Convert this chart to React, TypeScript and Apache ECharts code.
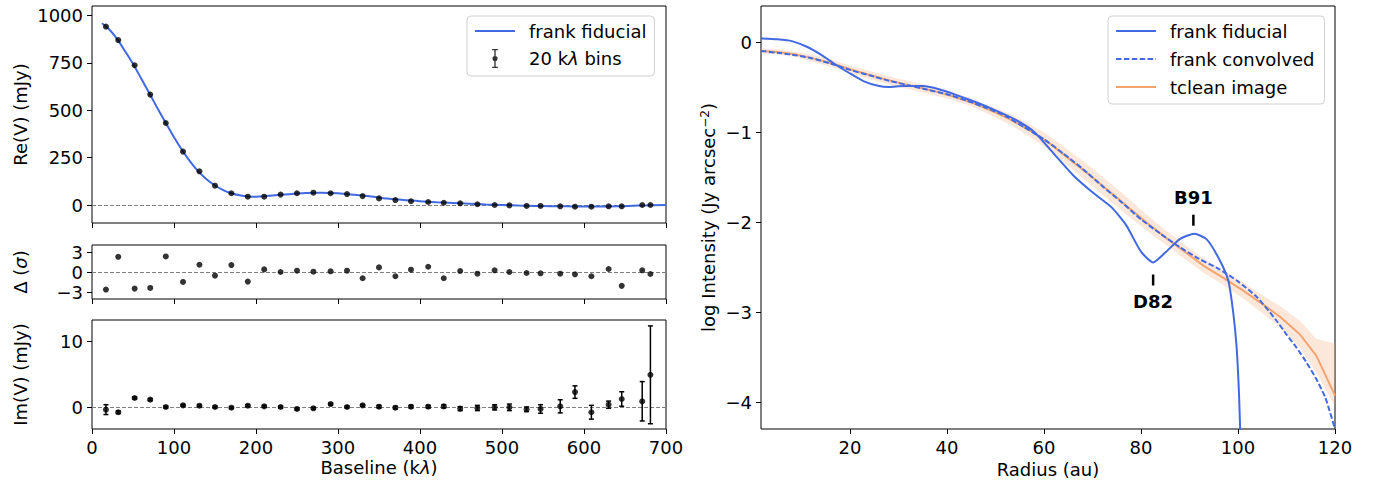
import React, { useEffect, useRef } from 'react';
import * as echarts from 'echarts';

const FONT = 'DejaVu Sans';
const BLUE = '#4169E1';
const ORANGE = '#f5a36f';

// ---- Left panels: binned visibilities (20 klambda bins) ----
const binBaseline = [17, 32, 52, 71, 90, 111, 131, 150, 170, 190, 210, 230, 250, 270, 291, 311, 330, 350, 370, 389, 410, 429, 449, 470, 491, 509, 530, 547, 571, 589, 609, 630, 646, 671, 681];
const binRe = [942, 871, 738, 583, 433, 282, 178, 102, 62, 44, 44, 55, 62, 65, 62, 58, 47, 35, 26, 20, 16, 12, 9, 4, 0, -2, -5, -5, -7, -9, -9, -7, -7, 0, 0];
const binResid = [-2.63, 2.28, -2.49, -2.39, 2.33, -1.49, 1.09, -0.55, 1.04, -1.44, 0.39, 0, 0.2, 0.05, 0.1, 0.2, -0.94, 0.69, -0.64, 0.35, 0.79, -0.94, 0.15, -0.25, 0.25, 0, -0.15, -0.2, -0.25, -0.35, -0.64, 0.45, -2.08, 0.25, -0.3];
const binIm = [-0.35, -0.75, 1.42, 1.17, 0.05, 0.3, 0.25, 0.05, -0.05, 0.25, 0.15, 0.05, -0.25, -0.15, 0.5, 0.05, 0.3, 0.1, -0.05, 0.1, 0.1, 0.15, -0.2, -0.1, 0, 0, -0.3, -0.25, 0.15, 2.32, -0.75, 0.4, 1.27, 0.92, 4.95];
const binImErr = [0.75, 0.2, 0.15, 0.15, 0.15, 0.15, 0.15, 0.15, 0.15, 0.15, 0.15, 0.15, 0.15, 0.15, 0.15, 0.15, 0.15, 0.2, 0.2, 0.2, 0.2, 0.25, 0.3, 0.4, 0.4, 0.5, 0.35, 0.65, 1.0, 0.95, 1.05, 0.55, 1.1, 3.0, 7.45];

// frank fiducial visibility model
const fidBaseline = [12, 20, 30, 40, 50, 60, 70, 80, 90, 100, 110, 120, 130, 140, 150, 160, 170, 180, 190, 200, 210, 220, 240, 260, 280, 300, 320, 340, 360, 380, 400, 420, 440, 460, 480, 500, 520, 540, 560, 580, 600, 620, 640, 660, 680, 700];
const fidRe = [960, 932, 880, 815, 746, 668, 590, 510, 433, 358, 289, 228, 176, 135, 103, 79, 62, 51, 45, 44, 46, 50, 57, 63, 65, 62, 54, 45, 34, 27, 20, 15, 11, 7, 3, 0, -3, -5, -6, -7, -8, -8, -7, -4, -1, 0];

// ---- Right panel: brightness profiles ----
const fidR = [1.65, 5, 8, 11, 14, 17, 20, 23, 26, 28, 31, 35, 38, 42, 46, 50, 54, 58, 62, 66, 70, 74, 77, 80, 82.5, 85, 88, 91, 93.5, 96, 98, 99, 99.7, 100.2, 100.5];
const fidLogI = [0.04, 0.03, 0.01, -0.05, -0.14, -0.25, -0.35, -0.44, -0.49, -0.5, -0.49, -0.49, -0.52, -0.59, -0.67, -0.76, -0.86, -1.0, -1.24, -1.48, -1.67, -1.84, -2.04, -2.33, -2.45, -2.34, -2.19, -2.13, -2.19, -2.4, -2.65, -3.0, -3.38, -3.9, -4.4];

const convR = [1.65, 5, 8, 12, 16, 20, 24, 28, 32, 36, 40, 44, 48, 52, 56, 60, 64, 68, 72, 76, 80, 84, 88, 92, 96, 100, 104, 108, 110, 112, 114, 116, 118, 120];
const convLogI = [-0.1, -0.12, -0.14, -0.18, -0.24, -0.31, -0.37, -0.43, -0.48, -0.53, -0.58, -0.65, -0.73, -0.82, -0.95, -1.08, -1.24, -1.41, -1.6, -1.78, -1.97, -2.13, -2.28, -2.41, -2.52, -2.66, -2.84, -3.1, -3.25, -3.39, -3.55, -3.73, -3.95, -4.3];

const tcleanR = [1.65, 5, 9, 13, 17, 21, 25, 29, 33, 37, 41, 45, 49, 53, 57, 61, 65, 69, 73, 77, 81, 85, 89, 93, 97, 101, 105, 108.6, 112.8, 116.2, 120];
const tcleanLogI = [-0.1, -0.11, -0.14, -0.19, -0.25, -0.32, -0.38, -0.44, -0.49, -0.54, -0.6, -0.67, -0.76, -0.86, -0.98, -1.12, -1.29, -1.46, -1.64, -1.82, -2.0, -2.17, -2.33, -2.49, -2.62, -2.76, -2.91, -3.05, -3.25, -3.49, -3.93];
const tcleanLo = [-0.13, -0.14, -0.17, -0.23, -0.29, -0.365, -0.425, -0.485, -0.535, -0.585, -0.645, -0.715, -0.81, -0.92, -1.05, -1.2, -1.38, -1.56, -1.74, -1.92, -2.09, -2.25, -2.41, -2.57, -2.7, -2.85, -3.01, -3.17, -3.4, -3.68, -4.05];
const tcleanHi = [-0.07, -0.08, -0.11, -0.15, -0.21, -0.275, -0.335, -0.395, -0.445, -0.495, -0.555, -0.625, -0.71, -0.8, -0.91, -1.04, -1.2, -1.36, -1.54, -1.72, -1.91, -2.09, -2.25, -2.41, -2.54, -2.67, -2.81, -2.93, -3.1, -3.3, -3.35];

// feature annotations
const annotR = [82.5, 90.8];
const annotLogI = [-2.45, -2.13];
const annotLabel = ['D82', 'B91'];
const annotBelow = [true, false];

// tick values
const reTicks = [0, 250, 500, 750, 1000];
const residTicks = [-3, 0, 3];
const imTicks = [0, 10];
const radiusTicks = [20, 40, 60, 80, 100, 120];
const logITicks = [-4, -3, -2, -1, 0];

const fmt = (v: number) => String(v).replace('-', '\u2212');

const ERR_ICON =
  'path://M0,0H6V1.4H0Z M0,18.6H6V20H0Z M2.3,0H3.7V20H2.3Z M0.3,10A2.7,2.7 0 1 1 5.7,10A2.7,2.7 0 1 1 0.3,10Z';

export default function App() {
  const ref = useRef<HTMLDivElement>(null);

  useEffect(() => {
    const chart = echarts.init(ref.current!, null, { renderer: 'svg' });
    const txt = { fontFamily: FONT, fontSize: 18, color: '#000' };
    const tick = { show: true, length: 5, lineStyle: { color: '#000', width: 1 } };
    const gridBase = { show: true, borderColor: '#000', borderWidth: 1, outerBoundsMode: 'none', containLabel: false };
    const zeroLine = {
      silent: true,
      z: 1,
      symbol: ['none', 'none'],
      label: { show: false },
      lineStyle: { color: '#808080', type: [4, 2], width: 1 },
      data: [{ yAxis: 0 }],
    };
    const xBase = (gi: number) => ({
      type: 'value',
      gridIndex: gi,
      min: 0,
      max: 700,
      interval: 100,
      axisLine: { show: false, onZero: false },
      axisTick: tick,
      splitLine: { show: false },
      axisLabel: { show: false },
    });
    const yBase = (gi: number, min: number, max: number, ticks: number[], name: string, gap: number) => ({
      type: 'value',
      gridIndex: gi,
      min,
      max,
      name,
      nameLocation: 'middle',
      nameGap: gap,
      nameTextStyle: {
        ...txt,
        rich: {
          i: { ...txt, fontStyle: 'italic' },
          sup: { ...txt, fontSize: 12, verticalAlign: 'top', padding: [0, 0, 6, 0] },
        },
      },
      axisLine: { show: false, onZero: false },
      axisTick: { ...tick, customValues: ticks },
      splitLine: { show: false },
      axisLabel: { ...txt, margin: 9, customValues: ticks, formatter: fmt },
    });
    const lineItem = (name: string) => ({ name, itemStyle: { opacity: 0 } });

    const option: any = {
      animation: false,
      backgroundColor: '#fff',
      textStyle: { fontFamily: FONT },
      grid: [
        { ...gridBase, left: 92, top: 6, width: 574, height: 217 },
        { ...gridBase, left: 92, top: 245, width: 574, height: 54 },
        { ...gridBase, left: 92, top: 320, width: 574, height: 109 },
        { ...gridBase, left: 761, top: 6, width: 574, height: 423 },
      ],
      xAxis: [
        xBase(0),
        xBase(1),
        {
          ...xBase(2),
          axisLabel: { ...txt, show: true, margin: 9 },
          name: 'Baseline (k{i|\u03bb})',
          nameLocation: 'middle',
          nameGap: 29,
          nameTextStyle: { ...txt, rich: { i: { ...txt, fontStyle: 'italic' } } },
        },
        {
          type: 'value',
          gridIndex: 3,
          min: 1.65,
          max: 120,
          axisLine: { show: false, onZero: false },
          axisTick: { ...tick, customValues: radiusTicks },
          splitLine: { show: false },
          axisLabel: { ...txt, margin: 9, customValues: radiusTicks },
          name: 'Radius (au)',
          nameLocation: 'middle',
          nameGap: 29,
          nameTextStyle: txt,
        },
      ],
      yAxis: [
        yBase(0, -95, 1051, reTicks, 'Re(V) (mJy)', 63),
        yBase(1, -4.05, 4.05, residTicks, '\u0394 ({i|\u03c3})', 63),
        yBase(2, -3.3, 13.3, imTicks, 'Im(V) (mJy)', 63),
        yBase(3, -4.3, 0.4, logITicks, 'log Intensity (Jy arcsec{sup|\u22122})', 44),
      ],
      legend: [
        {
          data: [lineItem('frank fiducial'), { name: '20 k\u03bb bins', icon: ERR_ICON }],
          orient: 'vertical',
          left: 467,
          top: 16,
          itemWidth: 40,
          itemHeight: 19,
          itemGap: 9,
          padding: [6, 8, 8, 7],
          borderColor: '#d0d0d0',
          borderWidth: 1,
          borderRadius: 4,
          backgroundColor: 'rgba(255,255,255,0.8)',
          selectedMode: false,
          formatter: (n: string) => (n === '20 k\u03bb bins' ? '20 k{i|\u03bb} bins' : n),
          textStyle: { ...txt, padding: [0, 0, 0, 9], rich: { i: { ...txt, fontStyle: 'italic' } } },
        },
        {
          data: [lineItem('frank fiducial'), lineItem('frank convolved'), lineItem('tclean image')],
          orient: 'vertical',
          left: 1108,
          top: 16,
          itemWidth: 40,
          itemHeight: 18,
          itemGap: 10,
          padding: [6, 10, 8, 7],
          borderColor: '#d0d0d0',
          borderWidth: 1,
          borderRadius: 4,
          backgroundColor: 'rgba(255,255,255,0.8)',
          selectedMode: false,
          textStyle: { ...txt, padding: [0, 0, 0, 9] },
        },
      ],
      series: [
        {
          name: '20 k\u03bb bins',
          type: 'scatter',
          xAxisIndex: 0,
          yAxisIndex: 0,
          data: binBaseline.map((b, i) => [b, binRe[i]]),
          symbolSize: 6,
          itemStyle: { color: '#000' },
          z: 4,
          markLine: zeroLine,
        },
        {
          name: 'frank fiducial',
          type: 'line',
          xAxisIndex: 0,
          yAxisIndex: 0,
          data: fidBaseline.map((b, i) => [b, fidRe[i]]),
          symbol: 'none',
          smooth: 0.3,
          lineStyle: { color: BLUE, width: 2 },
          itemStyle: { color: BLUE },
          z: 3,
        },
        {
          name: '20 k\u03bb bins',
          type: 'scatter',
          xAxisIndex: 1,
          yAxisIndex: 1,
          data: binBaseline.map((b, i) => [b, binResid[i]]),
          symbolSize: 6,
          itemStyle: { color: '#000' },
          z: 4,
          markLine: zeroLine,
        },
        {
          name: '20 k\u03bb bins',
          type: 'custom',
          xAxisIndex: 2,
          yAxisIndex: 2,
          data: binBaseline.map((b, i) => [b, binIm[i], binImErr[i]]),
          encode: { x: 0, y: 1 },
          itemStyle: { color: '#000' },
          z: 4,
          renderItem: (params: any, api: any) => {
            const x = api.value(0);
            const y = api.value(1);
            const e = api.value(2);
            const top = api.coord([x, y + e]);
            const bot = api.coord([x, y - e]);
            const w = 2.5;
            const style = { stroke: '#000', lineWidth: 1.5 };
            return {
              type: 'group',
              children: [
                { type: 'line', shape: { x1: top[0], y1: top[1], x2: bot[0], y2: bot[1] }, style },
                { type: 'line', shape: { x1: top[0] - w, y1: top[1], x2: top[0] + w, y2: top[1] }, style },
                { type: 'line', shape: { x1: bot[0] - w, y1: bot[1], x2: bot[0] + w, y2: bot[1] }, style },
              ],
            };
          },
        },
        {
          name: '20 k\u03bb bins',
          type: 'scatter',
          xAxisIndex: 2,
          yAxisIndex: 2,
          data: binBaseline.map((b, i) => [b, binIm[i]]),
          symbolSize: 6,
          itemStyle: { color: '#000' },
          z: 5,
          markLine: zeroLine,
        },
        {
          name: 'tclean band',
          type: 'custom',
          xAxisIndex: 3,
          yAxisIndex: 3,
          data: tcleanR.map((r, i) => [r, tcleanLo[i], tcleanHi[i]]),
          encode: { x: 0, y: [1, 2] },
          clip: true,
          silent: true,
          z: 1,
          renderItem: (params: any, api: any) => {
            if (params.dataIndex !== 0) return null;
            const upper = tcleanR.map((r, i) => api.coord([r, tcleanHi[i]]));
            const lower = tcleanR.map((r, i) => api.coord([r, tcleanLo[i]])).reverse();
            return {
              type: 'polygon',
              shape: { points: upper.concat(lower) },
              style: { fill: 'rgba(245,163,111,0.25)', stroke: 'none' },
            };
          },
        },
        {
          name: 'tclean image',
          type: 'line',
          xAxisIndex: 3,
          yAxisIndex: 3,
          data: tcleanR.map((r, i) => [r, tcleanLogI[i]]),
          symbol: 'none',
          lineStyle: { color: ORANGE, width: 2 },
          itemStyle: { color: ORANGE },
          z: 2,
        },
        {
          name: 'frank convolved',
          type: 'line',
          xAxisIndex: 3,
          yAxisIndex: 3,
          data: convR.map((r, i) => [r, convLogI[i]]),
          symbol: 'none',
          smooth: 0.2,
          lineStyle: { color: BLUE, width: 2, type: [5.5, 2.4] },
          itemStyle: { color: BLUE },
          z: 3,
        },
        {
          name: 'frank fiducial',
          type: 'line',
          xAxisIndex: 3,
          yAxisIndex: 3,
          data: fidR.map((r, i) => [r, fidLogI[i]]),
          symbol: 'none',
          smooth: 0.2,
          lineStyle: { color: BLUE, width: 2 },
          itemStyle: { color: BLUE },
          z: 4,
        },
      ],
    };

    chart.setOption(option);

    const graphics: any[] = [];
    annotR.forEach((r, i) => {
      const p = chart.convertToPixel({ xAxisIndex: 3, yAxisIndex: 3 }, [r, annotLogI[i]]) as number[];
      const below = annotBelow[i];
      const tickTop = below ? p[1] + 12 : p[1] - 19;
      const textY = below ? p[1] + 39 : p[1] - 36;
      graphics.push({
        type: 'rect',
        shape: { x: p[0] - 1.25, y: tickTop, width: 2.5, height: 11 },
        style: { fill: '#000' },
        silent: true,
      });
      graphics.push({
        type: 'text',
        x: p[0],
        y: textY,
        style: {
          text: annotLabel[i],
          font: `bold 18px "${FONT}"`,
          fill: '#000',
          align: 'center',
          verticalAlign: 'middle',
          textAlign: 'center',
          textVerticalAlign: 'middle',
        },
        silent: true,
      });
    });
    chart.setOption({ graphic: graphics });

    return () => chart.dispose();
  }, []);

  return (
    <div
      ref={ref}
      style={{ position: 'absolute', left: 0, top: 0, width: 1375, height: 485 }}
    />
  );
}
